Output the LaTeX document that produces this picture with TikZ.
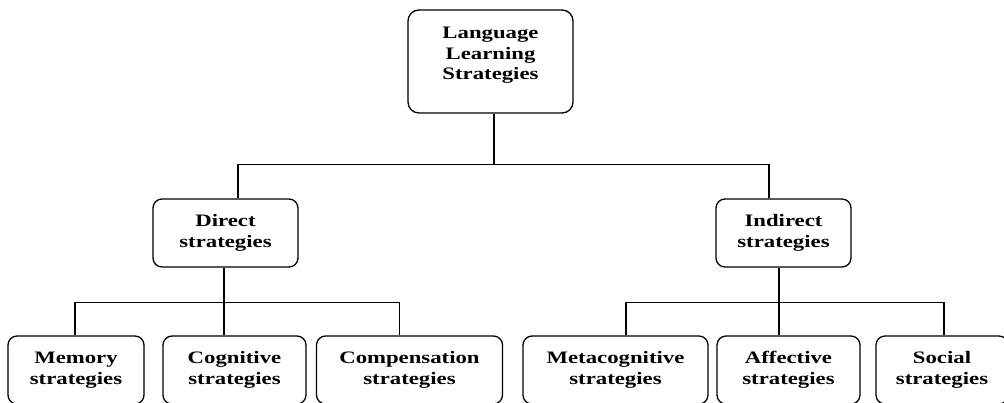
\documentclass[tikz,border=0pt]{standalone}
\usepackage{fontspec}
\setmainfont{Liberation Serif}[FakeStretch=1.3]

\tikzset{
  box/.style={draw, line width=1.3pt, rounded corners=9pt, align=center,
    inner sep=0pt, minimum height=68pt, font=\fontsize{17.5}{20.5}\selectfont\bfseries},
  wire/.style={line width=1.3pt}
}

\begin{document}
\begin{tikzpicture}[x=1pt,y=-1pt]
\useasboundingbox (0,0) rectangle (1004,402);

% Top box
\node[box, minimum width=165pt, minimum height=103pt, text depth=16pt, rounded corners=11pt]
  (lls) at (490.5,61.5) {Language\\Learning\\Strategies};

% Second level
\node[box, minimum width=145pt] (direct)   at (225.5,233) {Direct\\strategies};
\node[box, minimum width=135pt] (indirect) at (783.5,233) {Indirect\\strategies};

% Bottom level (cut off by the page edge)
\node[box, minimum width=136pt] (memory)       at (76,370)    {Memory\\strategies};
\node[box, minimum width=143pt] (cognitive)    at (234.5,370) {Cognitive\\strategies};
\node[box, minimum width=186pt] (compensation) at (409.5,370) {Compensation\\strategies};
\node[box, minimum width=185pt] (metacog)      at (615.5,370) {Metacognitive\\strategies};
\node[box, minimum width=143pt] (affective)    at (788.5,370) {Affective\\strategies};
\node[box, minimum width=132pt] (social)       at (942,370)   {Social\\strategies};

% Top bus
\draw[wire] ([xshift=3.5pt]lls.south) -- ++(0,51) coordinate (topbus);
\draw[wire] ([xshift=12.5pt]direct.north) |- (topbus) -| ([xshift=-14.5pt]indirect.north);

% Direct bus
\draw[wire] ([xshift=-1.5pt]direct.south) -- ++(0,35) coordinate (dbus);
\draw[wire] ([xshift=-1pt]memory.north) |- (dbus) -| ([xshift=-10pt]compensation.north);
\draw[wire] (dbus) -- (dbus |- cognitive.north);

% Indirect bus
\draw[wire] ([xshift=-4.5pt]indirect.south) -- ++(0,35) coordinate (ibus);
\draw[wire] ([xshift=10.5pt]metacog.north) |- (ibus) -| ([xshift=2pt]social.north);
\draw[wire] (ibus) -- (ibus |- affective.north);
\end{tikzpicture}
\end{document}
